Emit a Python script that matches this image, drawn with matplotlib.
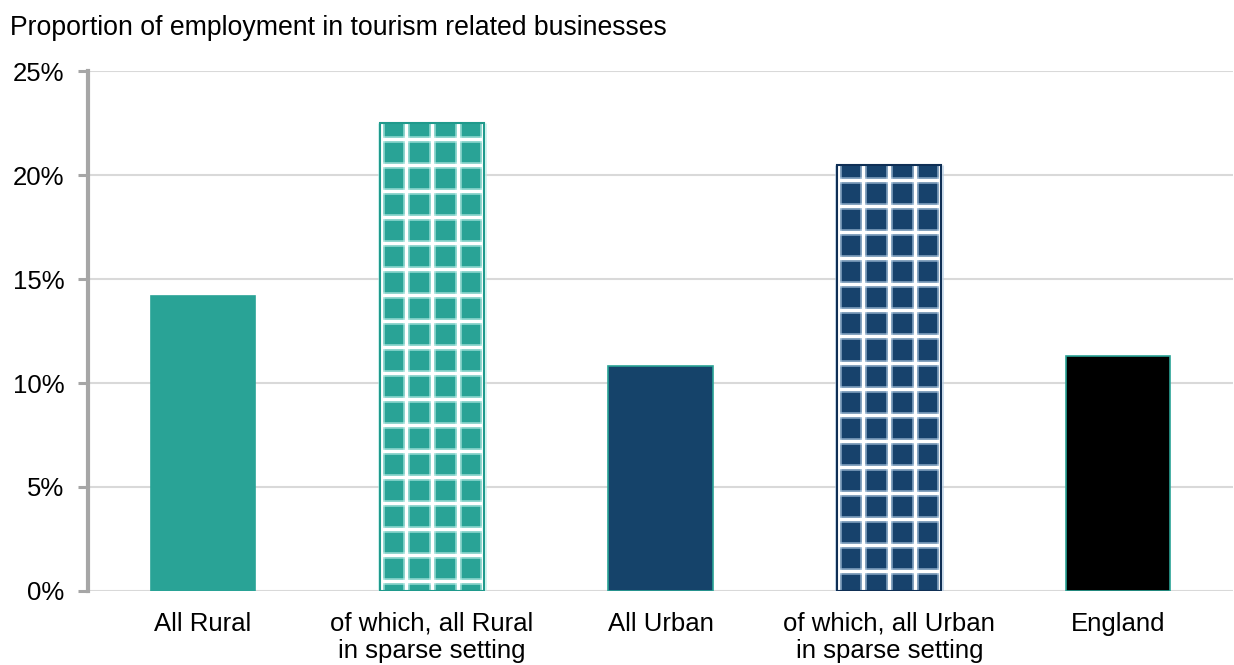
import matplotlib
matplotlib.use("Agg")
import matplotlib.pyplot as plt
from matplotlib.ticker import FuncFormatter

plt.rcParams['font.family'] = ['Liberation Sans', 'DejaVu Sans']

# Share of employment in tourism related businesses (%)
categories = ["All Rural", "of which, all Rural\nin sparse setting", "All Urban",
              "of which, all Urban\nin sparse setting", "England"]
values = [14.2, 22.5, 10.8, 20.5, 11.3]
fill_colors = ["#29a396", "#29a396", "#15436a", "#17426c", "#000000"]
edge_colors = ["#29a396", "#1f9a8c", "#2aa396", "#0f2f55", "#2aa396"]
gridded = [False, True, False, True, False]
grid_haze = [None, "#b5ece6", None, "#a9c6e0", None]
yticks = [0, 5, 10, 15, 20, 25]

W, H, DPI = 12.34, 6.65, 100
fig = plt.figure(figsize=(W, H), dpi=DPI)
ax = fig.add_axes([0.0715, 0.1113, 0.9275, 0.7819])

bar_w = 0.455
x = list(range(len(categories)))
bars = ax.bar(x, values, width=bar_w, color=fill_colors, edgecolor=edge_colors,
              linewidth=1.2, zorder=3)

ax.set_xlim(-0.5, len(categories) - 0.5)
ax.set_ylim(0, 25)
ax.set_yticks(yticks)
ax.yaxis.set_major_formatter(FuncFormatter(lambda v, p: f"{v:.0f}%"))
ax.set_xticks(x)
ax.set_xticklabels(categories, fontsize=18.5, linespacing=1.15)
ax.tick_params(axis='x', length=0, pad=15)
ax.tick_params(axis='y', labelsize=18.5, length=7, width=2.2, color="#a6a6a6", pad=10)

ax.grid(axis='y', color="#d9d9d9", linewidth=1.5, zorder=0)
for s in ["top", "right", "bottom"]:
    ax.spines[s].set_visible(False)
ax.spines["left"].set_color("#a6a6a6")
ax.spines["left"].set_linewidth(3)
ax.axhline(0, color="#d9d9d9", linewidth=2, zorder=2)

# square lattice of white lines inside the gridded bars
pos = ax.get_position()
px_per_x = pos.width * W * DPI / (ax.get_xlim()[1] - ax.get_xlim()[0])
px_per_y = pos.height * H * DPI / (ax.get_ylim()[1] - ax.get_ylim()[0])
ncols = 4
for bar, g, haze in zip(bars, gridded, grid_haze):
    if not g:
        continue
    x0, w, h = bar.get_x(), bar.get_width(), bar.get_height()
    cell_x = w / ncols
    cell_y = cell_x * px_per_x / px_per_y
    for k in range(ncols + 1):
        xx = x0 + k * cell_x
        xx = min(max(xx, x0 + 0.005), x0 + w - 0.005)
        ax.plot([xx, xx], [0, h], color=haze, lw=5, alpha=0.6, zorder=4,
                solid_capstyle='butt')
        ax.plot([xx, xx], [0, h], color="white", lw=2.4, zorder=5,
                solid_capstyle='butt')
    yy = h - cell_y * 0.6
    while yy > 0.05:
        ax.plot([x0, x0 + w], [yy, yy], color=haze, lw=5, alpha=0.6, zorder=4,
                solid_capstyle='butt')
        ax.plot([x0, x0 + w], [yy, yy], color="white", lw=2.4, zorder=5,
                solid_capstyle='butt')
        yy -= cell_y
    ax.bar(bar.get_x() + w / 2, h, width=w, fill=False,
           edgecolor=bar.get_edgecolor(), linewidth=1.5, zorder=6)

fig.text(0.008, 0.958, "Proportion of employment in tourism related businesses",
         fontsize=19.2, ha="left", va="center")

fig.savefig("out.png", dpi=DPI)
